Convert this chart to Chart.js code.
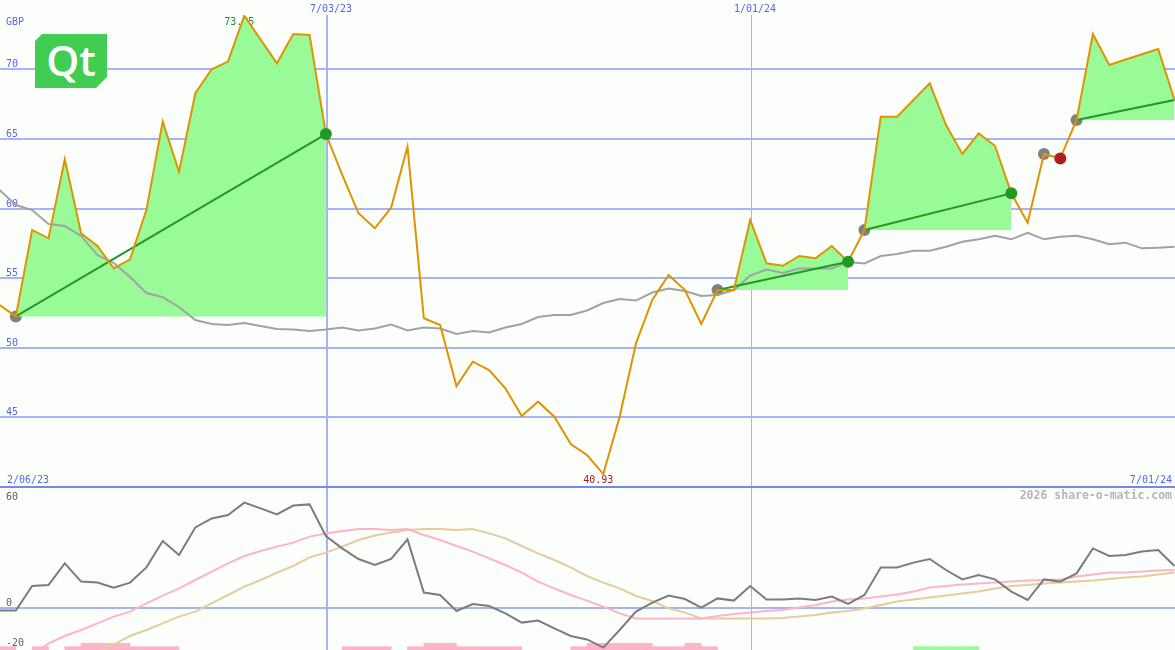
<!DOCTYPE html>
<html>
<head>
<meta charset="utf-8">
<title>share-o-matic</title>
<script src="https://cdn.jsdelivr.net/npm/chart.js@4.4.1/dist/chart.umd.min.js"></script>
<style>
  html, body { margin: 0; padding: 0; background: #fcfefc; }
  #wrap { position: relative; width: 1175px; height: 650px; overflow: hidden; background: #fcfefc; }
  #priceChart { position: absolute; left: 0; top: 0; width: 1175px; height: 488px; }
  #oscChart { position: absolute; left: 0; top: 488px; width: 1175px; height: 162px; }
  #qt {
    position: absolute; left: 35px; top: 34px; width: 72px; height: 54px;
    background: #41cd52; color: #fff; text-align: center;
    font: 600 42px 'Open Sans', 'Noto Sans', sans-serif; line-height: 52px;
    clip-path: polygon(7px 0, 100% 0, 100% calc(100% - 11px), calc(100% - 11px) 100%, 0 100%, 0 7px);
  }
</style>
</head>
<body>
<div id="wrap">
  <canvas id="priceChart" width="1175" height="488"></canvas>
  <canvas id="oscChart" width="1175" height="162"></canvas>
  <div id="qt">Qt</div>
</div>
<script>
// ******* DATA (weekly closes, one entry per week) ******************
let price = [53.07, 52.25, 58.46, 57.86, 63.54, 58.22, 57.31, 55.71, 56.35, 59.89,
  66.24, 62.65, 68.28, 70.0, 70.55, 73.85, 72.13, 70.43, 72.54, 72.46,
  65.35, 62.41, 59.66, 58.58, 60.07, 64.44, 52.12, 51.63, 47.25, 49.0,
  48.4, 47.09, 45.1, 46.13, 45.05, 43.09, 42.3, 40.93, 45.05, 50.32,
  53.43, 55.23, 54.15, 51.71, 54.15, 54.15, 59.18, 56.07, 55.89, 56.59,
  56.43, 57.31, 56.18, 58.46, 66.6, 66.6, 67.8, 68.99, 66.0, 63.92,
  65.4, 64.51, 61.09, 58.98, 63.92, 63.6, 66.36, 72.54, 70.31, 70.7,
  71.08, 71.46, 67.8];

let movingAvg = [61.33, 60.25, 59.89, 58.89, 58.75, 58.03, 56.66, 56.09, 55.08, 53.93,
  53.64, 52.93, 51.99, 51.71, 51.63, 51.78, 51.56, 51.35, 51.31, 51.2,
  51.31, 51.46, 51.24, 51.38, 51.67, 51.24, 51.46, 51.38, 50.99, 51.2,
  51.1, 51.46, 51.71, 52.21, 52.35, 52.35, 52.68, 53.21, 53.5, 53.39,
  53.97, 54.26, 54.08, 53.72, 53.79, 54.15, 55.19, 55.62, 55.37, 55.69,
  55.69, 55.69, 56.16, 56.05, 56.59, 56.73, 56.97, 56.97, 57.26, 57.62,
  57.79, 58.05, 57.79, 58.26, 57.79, 57.98, 58.05, 57.79, 57.43, 57.55,
  57.14, 57.19, 57.26];

// lower panel
let momentum = [-1.3, -1.3, 11.0, 11.5, 22.3, 13.2, 12.7, 10.2, 12.7, 20.3,
  33.5, 26.5, 40.3, 44.8, 46.5, 52.7, 49.8, 46.8, 51.2, 51.8,
  36.0, 29.8, 24.5, 21.5, 24.5, 34.3, 7.7, 6.5, -1.5, 2.0,
  1.0, -2.7, -7.3, -6.3, -10.2, -14.0, -15.7, -19.8, -11.0, -1.8,
  2.7, 6.2, 4.5, 0.2, 4.8, 3.7, 11.0, 4.3, 4.3, 4.8,
  4.0, 5.7, 2.0, 6.5, 20.3, 20.3, 22.7, 24.5, 19.0, 14.3,
  16.5, 14.3, 8.2, 4.0, 14.3, 13.2, 17.3, 29.8, 26.0, 26.5,
  28.2, 29.0, 21.0];

let fastSignal = [null, null, -23, -17.8, -14.0, -11.0, -7.7, -4.3, -1.8, 2.3,
  6.2, 9.8, 14.0, 18.2, 22.3, 26.0, 28.5, 30.7, 32.7, 35.7,
  37.3, 38.5, 39.5, 39.5, 39.0, 39.5, 36.5, 34.0, 31.0, 28.2,
  24.8, 21.5, 17.7, 13.2, 9.8, 6.5, 3.7, 0.7, -2.7, -5.2,
  -5.2, -5.2, -5.2, -5.2, -4.0, -3.0, -2.3, -1.5, -1.0, 0.2,
  1.5, 3.2, 4.3, 4.8, 5.7, 6.8, 8.2, 10.2, 11.0, 11.8,
  12.3, 12.8, 13.2, 13.7, 14.0, 14.3, 15.7, 16.8, 17.7, 17.8,
  18.2, 18.8, 19.0];

let slowSignal = [null, null, null, null, null, null, -22, -18.2, -14.0, -11.0,
  -7.7, -4.3, -1.8, 2.3, 6.5, 10.7, 14.0, 17.7, 21.0, 25.3,
  27.7, 30.7, 34.0, 36.2, 37.7, 39.0, 39.5, 39.5, 39.0, 39.5,
  37.3, 34.8, 31.0, 27.3, 24.0, 20.3, 16.0, 12.7, 9.8, 6.0,
  3.5, -0.2, -2.3, -5.2, -5.2, -5.2, -5.2, -5.2, -5.0, -4.3,
  -3.5, -2.3, -1.5, -0.2, 1.5, 3.2, 4.3, 5.2, 6.2, 7.3,
  8.2, 9.8, 11.0, 11.5, 12.3, 12.8, 13.2, 13.7, 14.5, 15.2,
  15.7, 16.8, 17.8];

// little signal bars along the bottom, one per week interval (1 = short, 2 = tall)
let pinkBars = [1, 0, 1, 0, 1, 2, 2, 2, 1, 1,
  1, 0, 0, 0, 0, 0, 0, 0, 0, 0,
  0, 1, 1, 1, 0, 1, 2, 2, 1, 1,
  1, 1, 0, 0, 0, 1, 2, 2, 2, 2,
  1, 1, 2, 1, 0, 0, 0, 0, 0, 0,
  0, 0, 0, 0, 0, 0, 0, 0, 0, 0,
  0, 0, 0, 0, 0, 0, 0, 0, 0, 0,
  0, 0];
let greenBars = [0, 0, 0, 0, 0, 0, 0, 0, 0, 0,
  0, 0, 0, 0, 0, 0, 0, 0, 0, 0,
  0, 0, 0, 0, 0, 0, 0, 0, 0, 0,
  0, 0, 0, 0, 0, 0, 0, 0, 0, 0,
  0, 0, 0, 0, 0, 0, 0, 0, 0, 0,
  0, 0, 0, 0, 0, 0, 1, 1, 1, 1,
  0, 0, 0, 0, 0, 0, 0, 0, 0, 0,
  0, 0];

// trades: buy week -> sell week (null = still open)
let tradeBuy = [1, 44, 53, 64, 66];
let tradeSell = [20, 52, 62, 65, null];

// axes
let priceTicks = [45, 50, 55, 60, 65, 70];
let oscTicks = [60, 0, -20];
let dateLineLabels = ['7/03/23', '1/01/24'];
let dateLinePos = [20.07, 46.05];
let dateLineWidth = [2, 1];
let startDate = '2/06/23';
let endDate = '7/01/24';
let currency = 'GBP';
let copyright = '2026 share-o-matic.com';

// ******* STYLE ******************
const mono = "'DejaVu Sans Mono', monospace";
const blue = '#5566ee';
const gridBlue = '#a4b4f4';
const sepBlue = '#7888ea';
const orange = '#de9400';
const fillGreen = '#98fb98';
const trendGreen = '#229922';
const lossPink = '#f4b4c4';

const weeks = price.map((v, i) => i);
const xMin = 0.03, xMax = 72.03;

function slice(arr, a, b) {
  return arr.map((v, i) => (i >= a && i <= b ? v : null));
}

// build the trade overlays
let tradeDatasets = [];
let buyDots = [];
let sellDots = [];
let sellColors = [];
for (let t = 0; t < tradeBuy.length; t++) {
  let a = tradeBuy[t];
  let b = tradeSell[t] === null ? price.length - 1 : tradeSell[t];
  let profit = price[b] > price[a];
  buyDots.push({ x: a, y: price[a] });
  if (tradeSell[t] !== null) {
    sellDots.push({ x: b, y: price[b] });
    sellColors.push(profit ? trendGreen : '#aa1f1f');
  }
  if (profit) {
    tradeDatasets.push({
      data: slice(price, a, b),
      fill: { value: price[a] },
      backgroundColor: fillGreen,
      borderWidth: 0,
      pointRadius: 0,
      order: 9
    });
  }
  tradeDatasets.push({
    data: [{ x: a, y: price[a] }, { x: b, y: price[b] }],
    borderColor: profit ? trendGreen : lossPink,
    borderWidth: 2,
    pointRadius: 0,
    fill: false,
    order: 7
  });
}

// ******* TEXT PLUGINS ******************
const priceText = {
  id: 'priceText',
  beforeDatasetsDraw(chart) {
    const { ctx, chartArea } = chart;
    const xs = chart.scales.x, ys = chart.scales.y;
    ctx.save();
    ctx.font = '10px ' + mono;
    ctx.fillStyle = blue;
    ctx.textAlign = 'left';
    ctx.textBaseline = 'alphabetic';
    priceTicks.forEach(v => ctx.fillText(String(v), 6, ys.getPixelForValue(v) - 2));
    ctx.fillText(currency, 6, 25);
    ctx.fillText(startDate, 7, chartArea.bottom - 4);
    ctx.textAlign = 'right';
    ctx.fillText(endDate, 1172, chartArea.bottom - 4);

    // high / low labels
    let hi = price.indexOf(Math.max(...price));
    let lo = price.indexOf(Math.min(...price));
    ctx.textAlign = 'center';
    ctx.fillStyle = '#2e8b2e';
    ctx.fillText(price[hi].toFixed(2), xs.getPixelForValue(hi) - 5, ys.getPixelForValue(price[hi]) + 9);
    ctx.fillStyle = '#9b1b1b';
    ctx.fillText(price[lo].toFixed(2), xs.getPixelForValue(lo) - 5, ys.getPixelForValue(price[lo]) + 9);
    ctx.restore();
  }
};

const oscText = {
  id: 'oscText',
  beforeDatasetsDraw(chart) {
    const { ctx, chartArea } = chart;
    const ys = chart.scales.y;
    ctx.save();
    ctx.font = '10px ' + mono;
    ctx.fillStyle = '#606060';
    ctx.textAlign = 'left';
    oscTicks.forEach(v => {
      let py = ys.getPixelForValue(v) - 2.5;
      py = Math.max(chartArea.top + 12, Math.min(chartArea.bottom - 4, py));
      ctx.fillText(String(v), 6, py);
    });
    ctx.font = 'bold 11.5px ' + mono;
    ctx.fillStyle = '#b6b6b6';
    ctx.textAlign = 'right';
    ctx.fillText(copyright, 1172, chartArea.top + 11);
    ctx.restore();
  }
};

Chart.defaults.font.family = mono;

// ******* PRICE CHART ******************
new Chart(document.getElementById('priceChart'), {
  type: 'line',
  data: {
    labels: weeks,
    datasets: [
      {
        data: buyDots,
        showLine: false,
        pointRadius: 6,
        pointBackgroundColor: '#808080',
        pointBorderWidth: 0,
        order: 10
      },
      ...tradeDatasets,
      {
        data: movingAvg,
        borderColor: '#a2a2a2',
        borderWidth: 2,
        pointRadius: 0,
        fill: false,
        order: 8
      },
      {
        data: price,
        borderColor: orange,
        borderWidth: 2,
        pointRadius: 0,
        fill: false,
        order: 6
      },
      {
        data: sellDots,
        showLine: false,
        pointRadius: 6,
        pointBackgroundColor: sellColors,
        pointBorderWidth: 0,
        order: 5
      }
    ]
  },
  options: {
    responsive: false,
    animation: false,
    events: [],
    layout: { autoPadding: false, padding: { top: 4, bottom: 1 } },
    elements: { line: { tension: 0 } },
    plugins: { legend: { display: false }, tooltip: { enabled: false } },
    scales: {
      x: {
        type: 'linear',
        position: 'top',
        min: xMin,
        max: xMax,
        offset: false,
        afterBuildTicks: axis => { axis.ticks = dateLinePos.map(v => ({ value: v })); },
        ticks: {
          callback: (v, i) => dateLineLabels[i],
          font: { family: mono, size: 10, lineHeight: 1.1 },
          color: blue,
          padding: 0,
          labelOffset: 4,
          autoSkip: false,
          maxRotation: 0,
          minRotation: 0
        },
        grid: { offset: false, color: gridBlue, lineWidth: ctx => dateLineWidth[ctx.index], drawTicks: false },
        border: { display: false }
      },
      y: {
        min: 40,
        max: 73.9,
        afterBuildTicks: axis => { axis.ticks = [40].concat(priceTicks).map(v => ({ value: v })); },
        ticks: { display: false },
        grid: {
          drawTicks: false,
          lineWidth: 2,
          color: ctx => (ctx.tick && ctx.tick.value === 40 ? sepBlue : gridBlue)
        },
        border: { display: false }
      }
    }
  },
  plugins: [priceText]
});

// ******* OSCILLATOR CHART ******************
new Chart(document.getElementById('oscChart'), {
  type: 'line',
  data: {
    labels: weeks,
    datasets: [
      {
        type: 'bar',
        data: pinkBars.map((v, i) => ({ x: i + 0.5, y: v || null })),
        backgroundColor: '#ffb3c8',
        yAxisID: 'yb',
        grouped: false,
        barPercentage: 1,
        categoryPercentage: 1,
        borderWidth: 0,
        order: 10
      },
      {
        type: 'bar',
        data: greenBars.map((v, i) => ({ x: i + 0.5, y: v || null })),
        backgroundColor: fillGreen,
        yAxisID: 'yb',
        grouped: false,
        barPercentage: 1,
        categoryPercentage: 1,
        borderWidth: 0,
        order: 10
      },
      { data: slowSignal, borderColor: '#e6cc9a', borderWidth: 2, pointRadius: 0, fill: false, order: 4 },
      { data: fastSignal, borderColor: '#ffb3c8', borderWidth: 2, pointRadius: 0, fill: false, order: 3 },
      { data: momentum, borderColor: '#7c7c7c', borderWidth: 2, pointRadius: 0, fill: false, order: 2 }
    ]
  },
  options: {
    responsive: false,
    animation: false,
    events: [],
    layout: { autoPadding: false },
    elements: { line: { tension: 0 } },
    plugins: { legend: { display: false }, tooltip: { enabled: false } },
    scales: {
      x: {
        type: 'linear',
        min: xMin,
        max: xMax,
        offset: false,
        afterBuildTicks: axis => { axis.ticks = dateLinePos.map(v => ({ value: v })); },
        ticks: { display: false },
        grid: { offset: false, color: gridBlue, lineWidth: ctx => dateLineWidth[ctx.index], drawTicks: false },
        border: { display: false }
      },
      y: {
        min: -21,
        max: 60,
        afterBuildTicks: axis => { axis.ticks = [{ value: 0 }]; },
        ticks: { display: false },
        grid: { drawTicks: false, lineWidth: 2, color: gridBlue },
        border: { display: false }
      },
      yb: { display: false, min: 0, max: 48.6 }
    }
  },
  plugins: [oscText]
});
</script>
</body>
</html>
